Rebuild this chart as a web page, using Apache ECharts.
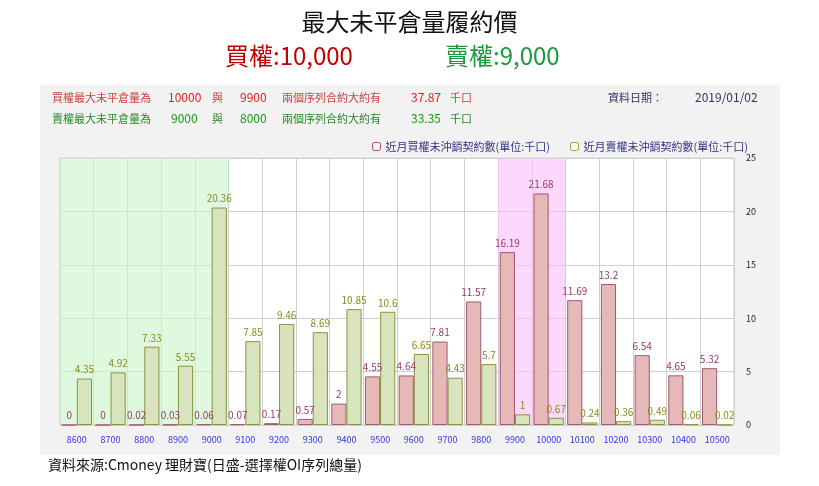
<!DOCTYPE html>
<html>
<head>
<meta charset="utf-8">
<script src="https://cdn.jsdelivr.net/npm/echarts@6/dist/echarts.min.js"></script>
<style>
  body { margin: 0; background: #fff; }
  #chart { width: 819px; height: 486px; }
</style>
</head>
<body>
<div id="chart"></div>
<script>
const strikes = ['8600','8700','8800','8900','9000','9100','9200','9300','9400','9500',
                 '9600','9700','9800','9900','10000','10100','10200','10300','10400','10500'];
const callOI = [0,0,0.02,0.03,0.06,0.07,0.17,0.57,2,4.55,4.64,7.81,11.57,16.19,21.68,11.69,13.2,6.54,4.65,5.32];
const putOI = [4.35,4.92,7.33,5.55,20.36,7.85,9.46,8.69,10.85,10.6,6.65,4.43,5.7,1,0.67,0.24,0.36,0.49,0.06,0.02];
const yTicks = [0, 5, 10, 15, 20, 25];

const font = '"Noto Sans CJK TC", sans-serif';
const chart = echarts.init(document.getElementById('chart'));

chart.setOption({
    textStyle: { fontFamily: font },
    graphic: [
        { type: 'rect', shape: { x: 40, y: 85, width: 740, height: 370 }, style: { fill: '#f2f2f2' }, z: -10 },
        { type: 'text', left: 'center', top: 10, style: { text: '最大未平倉量履約價', font: '24px ' + font, fill: '#111' } },
        { type: 'text', left: 225, top: 44, style: { text: '買權:10,000', font: '24px ' + font, fill: '#c00000' } },
        { type: 'text', left: 445, top: 44, style: { text: '賣權:9,000', font: '24px ' + font, fill: '#1a9a3a' } },
        { type: 'text', left: 52, top: 92, style: { rich: {}, text: '買權最大未平倉量為', font: '11px ' + font, fill: '#d04040' } },
        { type: 'text', left: 168, top: 91, style: { text: '10000', font: '12px ' + font, fill: '#e02020' } },
        { type: 'text', left: 212, top: 92, style: { text: '與', font: '11px ' + font, fill: '#d04040' } },
        { type: 'text', left: 240, top: 91, style: { text: '9900', font: '12px ' + font, fill: '#e02020' } },
        { type: 'text', left: 282, top: 92, style: { text: '兩個序列合約大約有', font: '11px ' + font, fill: '#d04040' } },
        { type: 'text', left: 411, top: 91, style: { text: '37.87', font: '12px ' + font, fill: '#e02020' } },
        { type: 'text', left: 450, top: 92, style: { text: '千口', font: '11px ' + font, fill: '#d04040' } },
        { type: 'text', left: 608, top: 92, style: { text: '資料日期：', font: '11px ' + font, fill: '#333366' } },
        { type: 'text', left: 695, top: 91, style: { text: '2019/01/02', font: '12px ' + font, fill: '#333366' } },
        { type: 'text', left: 52, top: 113, style: { text: '賣權最大未平倉量為', font: '11px ' + font, fill: '#2a8a2a' } },
        { type: 'text', left: 171, top: 112, style: { text: '9000', font: '12px ' + font, fill: '#10a010' } },
        { type: 'text', left: 212, top: 113, style: { text: '與', font: '11px ' + font, fill: '#2a8a2a' } },
        { type: 'text', left: 240, top: 112, style: { text: '8000', font: '12px ' + font, fill: '#10a010' } },
        { type: 'text', left: 282, top: 113, style: { text: '兩個序列合約大約有', font: '11px ' + font, fill: '#2a8a2a' } },
        { type: 'text', left: 411, top: 112, style: { text: '33.35', font: '12px ' + font, fill: '#10a010' } },
        { type: 'text', left: 450, top: 113, style: { text: '千口', font: '11px ' + font, fill: '#2a8a2a' } },
        { type: 'text', left: 48, top: 458, style: { text: '資料來源:Cmoney 理財寶(日盛-選擇權OI序列總量)', font: '14px ' + font, fill: '#111' } }
    ],
    legend: {
        top: 136,
        right: 66,
        itemWidth: 8,
        itemHeight: 8,
        itemGap: 20,
        textStyle: { fontSize: 11, color: '#333388' },
        data: [
            { name: '近月買權未沖銷契約數(單位:千口)', itemStyle: { color: '#f8f8f8', borderColor: '#c04060', borderWidth: 1 } },
            { name: '近月賣權未沖銷契約數(單位:千口)', itemStyle: { color: '#f8f8f8', borderColor: '#a0a020', borderWidth: 1 } }
        ]
    },
    grid: { left: 60, right: 85, top: 158, bottom: 61, backgroundColor: '#fff', show: true, borderColor: '#ccc', borderWidth: 1 },
    xAxis: {
        type: 'category',
        data: strikes,
        axisLine: { show: false },
        axisTick: { show: false },
        axisLabel: { color: '#3333dd', fontSize: 9, margin: 10 },
        splitLine: { show: true, lineStyle: { color: '#cfcfcf' } }
    },
    yAxis: {
        type: 'value',
        position: 'right',
        min: yTicks[0],
        max: yTicks[yTicks.length - 1],
        interval: 5,
        axisLine: { show: false },
        axisTick: { show: false },
        axisLabel: { color: '#222', fontSize: 9, margin: 12 },
        splitLine: { lineStyle: { color: '#cfcfcf' } }
    },
    series: [
        {
            name: '近月買權未沖銷契約數(單位:千口)',
            type: 'bar',
            data: callOI,
            barGap: '0%',
            barCategoryGap: '10%',
            itemStyle: { color: '#e6b8b7', borderColor: '#a05a6a', borderWidth: 1 },
            label: { show: true, position: 'top', color: '#9a3a6a', fontSize: 10, distance: 4 },
            markArea: {
                silent: true,
                itemStyle: { color: 'rgba(200,245,200,0.6)' },
                data: [
                    [{ xAxis: '8600' }, { xAxis: '9000' }],
                    [{ xAxis: '9900', itemStyle: { color: 'rgba(250,190,250,0.6)' } }, { xAxis: '10000' }]
                ]
            },
            z: 3
        },
        {
            name: '近月賣權未沖銷契約數(單位:千口)',
            type: 'bar',
            data: putOI,
            itemStyle: { color: '#d7e4bd', borderColor: '#8a9440', borderWidth: 1 },
            label: { show: true, position: 'top', color: '#8a8a1a', fontSize: 10, distance: 4 },
            z: 3
        }
    ]
});
</script>
</body>
</html>
